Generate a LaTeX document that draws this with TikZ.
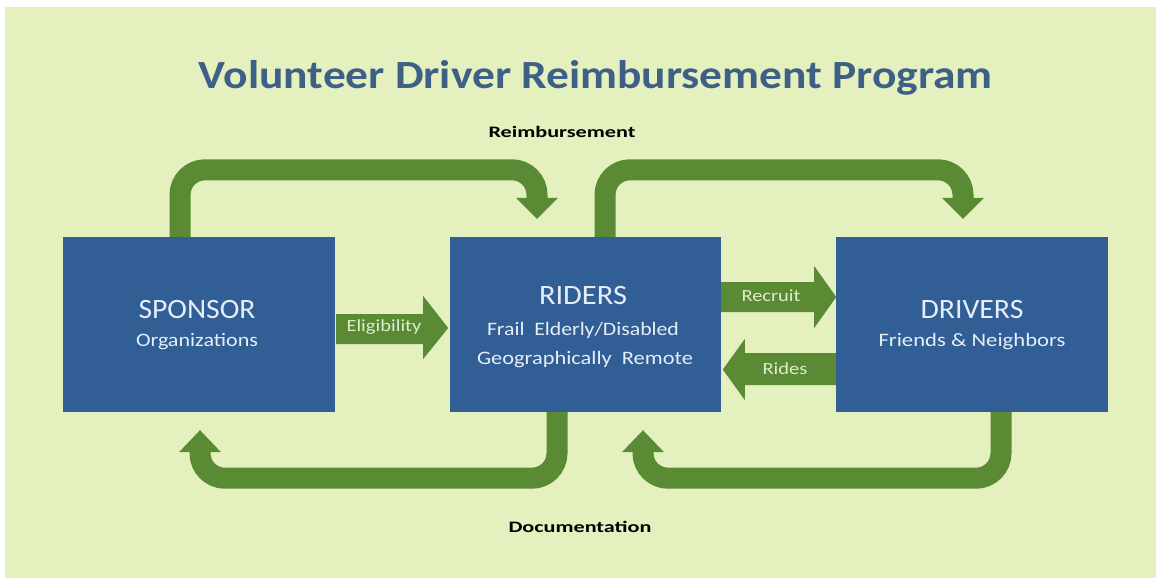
\documentclass[tikz,border=0pt]{standalone}
\usepackage{fontspec}
\setmainfont{Carlito}
\usepackage{graphicx}
\definecolor{bg}{RGB}{228,240,190}
\definecolor{boxblue}{RGB}{50,94,150}
\definecolor{arrowgreen}{RGB}{90,138,52}
\definecolor{titleblue}{RGB}{62,96,135}
\definecolor{boxtext}{RGB}{228,238,248}
\definecolor{arrowtext}{RGB}{222,236,204}
\newcommand{\fitw}[2]{\resizebox{#1}{\height}{#2}}
\begin{document}
\begin{tikzpicture}[x=1pt,y=-1pt,
  bigbox/.style={fill=boxblue, minimum height=175pt, inner sep=0pt},
  band/.style={draw=arrowgreen, line width=21pt, rounded corners=25pt},
  head/.style={fill=arrowgreen},
  boxhead/.style={text=boxtext, font=\fontsize{28}{30}\selectfont, inner sep=0pt},
  boxsub/.style={text=boxtext, font=\fontsize{19}{21}\selectfont, inner sep=0pt},
  flowlabel/.style={text=arrowtext, font=\fontsize{17}{19}\selectfont, inner sep=0pt},
  outlabel/.style={text=black, font=\bfseries\fontsize{16}{18}\selectfont, inner sep=0pt}]
\useasboundingbox (0,0) rectangle (1156,578);
\fill[white] (0,0) rectangle (1156,578);
\fill[bg] (5,7) rectangle (1156,578);

% title
\node[text=titleblue, font=\bfseries\fontsize{40}{44}\selectfont, inner sep=0pt] (title) at (596,78) {\fitw{794pt}{Volunteer Driver Reimbursement Program}};

% boxes
\node[bigbox, minimum width=272pt] (sponsor) at (199,324.5) {};
\node[bigbox, minimum width=271pt] (riders) at (585.5,324.5) {};
\node[bigbox, minimum width=272pt] (drivers) at (972,324.5) {};

% box texts
\node[boxhead] (sponsorT) at (197,310) {\fitw{117pt}{SPONSOR}};
\node[boxsub] (sponsorS) at (197,342) {\fitw{122pt}{Organizations}};
\node[boxhead] (ridersT) at (583,296) {\fitw{88pt}{RIDERS}};
\node[boxsub] (ridersS1) at (583,330) {\fitw{192pt}{Frail\ \ Elderly/Disabled}};
\node[boxsub] (ridersS2) at (585,360) {\fitw{216pt}{Geographically\ \ Remote}};
\node[boxhead] (driversT) at (972,310) {\fitw{103pt}{DRIVERS}};
\node[boxsub] (driversS) at (972,342) {\fitw{187pt}{Friends \& Neighbors}};

% top arrows
\draw[band] ([xshift=-19pt]sponsor.north) -- ++(0,-67) -| ([xshift=-48.5pt,yshift=39pt]riders.north);
\fill[head] ([xshift=-48.5pt,yshift=39pt]riders.north) ++(-21,0) -- ++(42,0) -- ++(-21,21) -- cycle;
\draw[band] ([xshift=19.5pt]riders.north) -- ++(0,-67) -| ([xshift=-9pt,yshift=39pt]drivers.north);
\fill[head] ([xshift=-9pt,yshift=39pt]drivers.north) ++(-21,0) -- ++(42,0) -- ++(-21,21) -- cycle;

% bottom arrows
\draw[band] ([xshift=-28.5pt]riders.south) -- ++(0,66) -| ([xshift=1pt,yshift=-40pt]sponsor.south);
\fill[head] ([xshift=1pt,yshift=-40pt]sponsor.south) ++(-21,0) -- ++(42,0) -- ++(-21,-22) -- cycle;
\draw[band] ([xshift=29pt]drivers.south) -- ++(0,66) -| ([xshift=57.5pt,yshift=-40pt]riders.south);
\fill[head] ([xshift=57.5pt,yshift=-40pt]riders.south) ++(-21,0) -- ++(42,0) -- ++(-21,-22) -- cycle;

% middle arrows
\fill[head] (sponsor.east) ++(1,-10.5) -- ++(87,0) -- ++(0,-18) -- ++(25,32) -- ++(-25,31) -- ++(0,-15) -- ++(-87,0) -- cycle;
\fill[head] (riders.east) ++(0,-42.5) -- ++(93,0) -- ++(0,-16) -- ++(22,31) -- ++(-22,31) -- ++(0,-16) -- ++(-93,0) -- cycle;
\fill[head] (drivers.west) ++(0,28.5) -- ++(-91,0) -- ++(0,-14) -- ++(-22,30.5) -- ++(22,30.5) -- ++(0,-15) -- ++(91,0) -- cycle;

\node[flowlabel] (elig) at (384,327) {\fitw{75pt}{Eligibility}};
\node[flowlabel] (recruit) at (771,296) {\fitw{59pt}{Recruit}};
\node[flowlabel] (rides) at (785,369) {\fitw{45pt}{Rides}};

% outside labels
\node[outlabel] (reimb) at (562,132) {\fitw{147pt}{Reimbursement}};
\node[outlabel] (doc) at (580,527) {\fitw{143pt}{Documentation}};
\end{tikzpicture}
\end{document}
